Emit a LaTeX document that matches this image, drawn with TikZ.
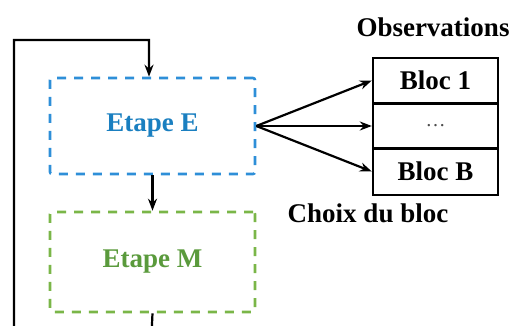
\documentclass[tikz,border=0pt]{standalone}
\usepackage{fontspec}
\setmainfont{Liberation Serif}
\usepackage{tikz}
\usetikzlibrary{arrows.meta,positioning}
\definecolor{stepBlue}{HTML}{2E8FD8}
\definecolor{stepBlueText}{HTML}{1A7FC0}
\definecolor{stepGreen}{HTML}{7AB648}
\definecolor{stepGreenText}{HTML}{5A9A3C}

\tikzset{
  stepbox/.style={dashed,dash pattern=on 9pt off 8pt,line width=2.6pt,rounded corners=2pt,
    minimum width=205pt,inner sep=0pt,font=\fontsize{27}{30}\selectfont\bfseries},
  blocbox/.style={draw,line width=2.4pt,minimum width=125pt,inner sep=0pt,
    font=\fontsize{27}{30}\selectfont\bfseries},
  link/.style={line width=2.2pt,-{Stealth[length=12pt,width=9pt]}},
}

\begin{document}
\begin{tikzpicture}[x=1pt,y=-1pt,>=Latex]
    \useasboundingbox (0,0) rectangle (511,326);
    \clip (0,0) rectangle (511,326);
    % etapes
    \node[stepbox,draw=stepBlue,text=stepBlueText,minimum height=96pt] (etapeE) at (152.5,126) {Etape E};
    \node[stepbox,draw=stepGreen,text=stepGreenText,minimum height=100pt] (etapeM) at (152.5,262) {Etape M};
    % observations
    \node[blocbox,minimum height=45pt] (bloc1) at (435.5,80.5) {Bloc 1};
    \node[blocbox,minimum height=45pt,font=\fontsize{20}{22}\selectfont,text=black!70] (blocdots) at (435.5,126) {\dots};
    \node[blocbox,minimum height=47pt] (blocB) at (435.5,171.5) {Bloc B};
    \node[font=\fontsize{27}{30}\selectfont\bfseries] (obs) at (433,27) {Observations};
    \node[font=\fontsize{27}{30}\selectfont\bfseries] (choix) at (368,213) {Choix du bloc};
    % fleches
    \draw[link] (etapeE.south) -- (etapeM.north);
    \draw[link] (etapeE.east) -- (bloc1.west);
    \draw[link] (etapeE.east) -- (blocdots.west);
    \draw[link] (etapeE.east) -- (blocB.west);
    % boucle
    \coordinate (loopTL) at (14,40);
    \coordinate (loopTR) at (149,40);
    \coordinate (loopBL) at (14,345);
    \coordinate (loopBR) at (151,345);
    \draw[link] (etapeM.south) -- (loopBR) -- (loopBL) -- (loopTL) -- (loopTR) -- ([xshift=-3.5pt]etapeE.north);
  \end{tikzpicture}
\end{document}
